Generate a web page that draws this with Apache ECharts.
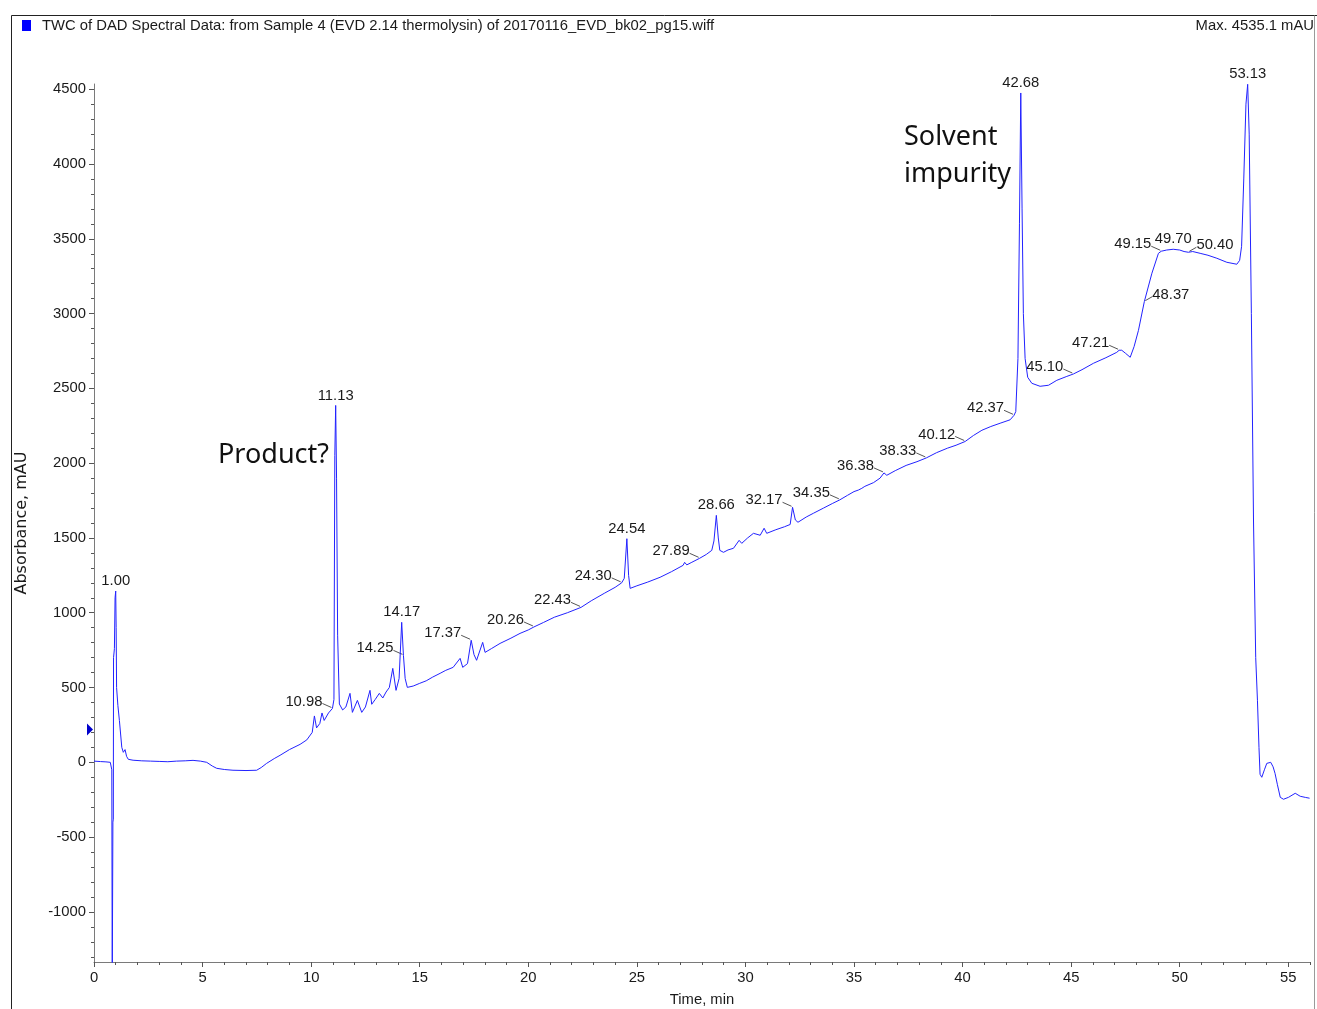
<!DOCTYPE html>
<html>
<head>
<meta charset="utf-8">
<title>TWC chromatogram</title>
<script src="https://cdn.jsdelivr.net/npm/echarts@6/dist/echarts.min.js"></script>
<style>
  html, body { margin: 0; padding: 0; background: #ffffff; }
  #chart { width: 1317px; height: 1009px; }
</style>
</head>
<body>
<div id="chart"></div>
<script>
// Total wavelength chromatogram (DAD), retention time in minutes vs absorbance in mAU
const traceTime = [
  0.00, 0.30, 0.55, 0.75, 0.80, 0.82, 0.84, 0.86, 0.87, 0.89, 0.90, 0.94, 0.97, 1.00, 1.02, 1.04,
  1.10, 1.17, 1.28, 1.35, 1.43, 1.50, 1.58, 1.80, 2.20, 2.60, 3.00, 3.40, 3.80, 4.20, 4.56, 4.90,
  5.19, 5.45, 5.65, 6.00, 6.40, 7.00, 7.49, 7.70, 7.95, 8.30, 8.57, 9.00, 9.49, 9.80, 10.05, 10.15,
  10.25, 10.40, 10.50, 10.60, 10.80, 10.98, 11.05, 11.09, 11.13, 11.17, 11.22, 11.30, 11.45, 11.60,
  11.79, 11.90, 12.13, 12.33, 12.50, 12.71, 12.79, 12.95, 13.14, 13.30, 13.45, 13.60, 13.76, 13.91,
  14.05, 14.17, 14.25, 14.33, 14.43, 14.70, 15.00, 15.30, 15.60, 15.94, 16.20, 16.54, 16.86, 16.98,
  17.20, 17.37, 17.50, 17.62, 17.90, 18.01, 18.30, 18.70, 19.20, 19.62, 20.00, 20.26, 20.70, 21.20,
  21.80, 22.43, 22.90, 23.50, 24.00, 24.30, 24.42, 24.54, 24.62, 24.69, 25.00, 25.50, 26.07, 26.60,
  27.13, 27.20, 27.30, 27.50, 27.89, 28.20, 28.45, 28.55, 28.66, 28.75, 28.82, 28.99, 29.20, 29.45,
  29.71, 29.83, 30.10, 30.37, 30.45, 30.68, 30.86, 30.98, 31.40, 31.80, 32.06, 32.17, 32.30, 32.42,
  32.80, 33.13, 33.60, 34.00, 34.35, 34.70, 35.00, 35.20, 35.36, 35.50, 35.90, 36.20, 36.38, 36.51,
  36.90, 37.40, 37.90, 38.33, 38.80, 39.30, 39.70, 40.12, 40.50, 40.89, 41.30, 41.73, 42.19, 42.37,
  42.45, 42.55, 42.62, 42.68, 42.74, 42.80, 42.88, 43.00, 43.19, 43.57, 43.96, 44.34, 44.80, 45.10,
  45.50, 46.03, 46.60, 47.10, 47.21, 47.33, 47.50, 47.72, 47.90, 48.10, 48.37, 48.72, 49.02, 49.15,
  49.40, 49.70, 50.00, 50.20, 50.40, 50.60, 50.94, 51.30, 51.71, 52.17, 52.63, 52.76, 52.85, 52.95,
  53.05, 53.13, 53.20, 53.30, 53.40, 53.50, 53.58, 53.65, 53.70, 53.78, 53.90, 54.01, 54.19, 54.30,
  54.39, 54.50, 54.63, 54.78, 55.01, 55.32, 55.55, 55.80, 55.98
];
const traceAbs = [
  8, 5, 3, 0, 2, -50, -1500, -1500, -400, -380, 700, 760, 1100, 1145, 900, 500,
  380, 280, 100, 67, 85, 40, 20, 14, 10, 8, 6, 4, 8, 10, 13, 8,
  0, -25, -40, -48, -53, -55, -53, -35, -7, 25, 47, 85, 120, 150, 200, 310,
  230, 260, 330, 280, 330, 360, 420, 2050, 2386, 1900, 850, 390, 350, 370,
  461, 334, 414, 334, 370, 481, 388, 420, 461, 430, 470, 500, 628, 481,
  560, 936, 715, 560, 501, 510, 528, 545, 570, 595, 615, 635, 695, 635,
  660, 816, 720, 682, 802, 735, 760, 795, 830, 862, 885, 905, 935, 970,
  1000, 1036, 1080, 1130, 1170, 1200, 1230, 1495, 1250, 1163, 1180, 1205, 1237, 1275,
  1317, 1337, 1320, 1335, 1364, 1390, 1417, 1480, 1651, 1500, 1417, 1404, 1420, 1431,
  1484, 1464, 1500, 1531, 1538, 1518, 1565, 1531, 1555, 1575, 1590, 1705, 1620, 1605,
  1640, 1665, 1700, 1730, 1755, 1785, 1810, 1820, 1832, 1845, 1870, 1900, 1935, 1919,
  1950, 1985, 2010, 2035, 2070, 2100, 2120, 2145, 2185, 2220, 2245, 2267, 2290, 2320,
  2345, 2700, 3600, 4475, 3700, 3000, 2700, 2574, 2534, 2514, 2521, 2554, 2580, 2596,
  2625, 2668, 2705, 2741, 2755, 2755, 2735, 2708, 2780, 2888, 3080, 3270, 3403, 3417,
  3425, 3430, 3425, 3415, 3410, 3415, 3403, 3390, 3370, 3343, 3330, 3356, 3450, 3900,
  4400, 4533, 4200, 3000, 1600, 700, 415, 100, -80, -100, -50, -7, 0, -30,
  -74, -150, -234, -247, -234, -207, -227, -235, -240
];

// Annotated retention times and the absorbance at each annotated point
const peakLabel = [
  '1.00', '10.98', '11.13', '14.25', '14.17', '17.37', '20.26', '22.43', '24.30', '24.54',
  '27.89', '28.66', '32.17', '34.35', '36.38', '38.33', '40.12', '42.37', '42.68', '45.10',
  '47.21', '48.37', '49.15', '49.70', '50.40', '53.13'
];
const peakTime = peakLabel.map(Number);
const peakAbs = [
  1145, 360, 2386, 715, 936, 816, 905, 1036, 1200, 1495,
  1364, 1651, 1705, 1755, 1935, 2035, 2145, 2320, 4475, 2596,
  2755, 3080, 3417, 3430, 3410, 4533
];

// Axis tick values
const xTickValues = [0, 5, 10, 15, 20, 25, 30, 35, 40, 45, 50, 55];
const yTickValues = [-1000, -500, 0, 500, 1000, 1500, 2000, 2500, 3000, 3500, 4000, 4500];

const chartTitle = 'TWC of DAD Spectral Data: from Sample 4 (EVD 2.14 thermolysin) of 20170116_EVD_bk02_pg15.wiff';
const maxText = 'Max. 4535.1 mAU';

// Layout for the peak captions: most sit up-left with a short leader
const captionAbove = new Set(['1.00', '11.13', '14.17', '24.54', '28.66', '42.68', '49.70', '53.13']);
const captionRight = new Set(['48.37', '50.40']);

const X_MIN = 0, X_MAX = 56, Y_MIN = -1335, Y_MAX = 4535;
const minorX = [];
for (let v = X_MIN; v <= X_MAX; v += 1) if (v % 5 !== 0) minorX.push(v);
const minorY = [];
for (let v = -1300; v <= 4500; v += 100) if (v % 500 !== 0) minorY.push(v);

const FONT = '"Liberation Sans", Arial, sans-serif';
const FS = 14.8;
const TEXT = '#1a1a1a';
const TRACE = '#2222ff';

const chart = echarts.init(document.getElementById('chart'), null, { renderer: 'canvas' });

const axisLabelStyle = { color: TEXT, fontFamily: FONT, fontSize: FS, formatter: (v) => String(v) };

chart.setOption({
  animation: false,
  backgroundColor: '#ffffff',
  title: {
    text: maxText,
    right: 3,
    top: 18,
    padding: 0,
    textStyle: { color: TEXT, fontFamily: FONT, fontSize: FS, fontWeight: 'normal' }
  },
  legend: {
    left: 22,
    top: 18,
    selectedMode: false,
    icon: 'rect',
    itemWidth: 9,
    itemHeight: 11,
    padding: 0,
    data: [{ name: chartTitle, itemStyle: { color: '#0000ff' } }],
    textStyle: { color: TEXT, fontFamily: FONT, fontSize: FS, padding: [0, 0, 0, 6] }
  },
  grid: { left: 94, right: 7, top: 84, bottom: 47, containLabel: false, outerBoundsMode: 'none' },
  xAxis: [
    {
      type: 'value', min: X_MIN, max: X_MAX, position: 'bottom',
      name: 'Time, min', nameLocation: 'middle', nameGap: 30,
      nameTextStyle: { color: TEXT, fontFamily: FONT, fontSize: FS },
      axisLine: { show: true, onZero: false, lineStyle: { color: '#7a7a7a', width: 1 } },
      axisTick: { show: true, customValues: xTickValues, length: 5, lineStyle: { color: '#555555' } },
      axisLabel: Object.assign({ customValues: xTickValues, margin: 8 }, axisLabelStyle),
      splitLine: { show: false }
    },
    {
      type: 'value', min: X_MIN, max: X_MAX, position: 'bottom',
      axisLine: { show: false, onZero: false },
      axisTick: { show: true, customValues: minorX, length: 3, lineStyle: { color: '#555555' } },
      axisLabel: { show: false },
      splitLine: { show: false }
    }
  ],
  yAxis: [
    {
      type: 'value', min: Y_MIN, max: Y_MAX, position: 'left',
      name: 'Absorbance, mAU', nameLocation: 'middle', nameGap: 64, nameRotate: 90,
      nameTextStyle: { color: TEXT, fontFamily: '"DejaVu Sans", sans-serif', fontSize: 16 },
      axisLine: { show: true, onZero: false, lineStyle: { color: '#7a7a7a', width: 1 } },
      axisTick: { show: true, customValues: yTickValues, length: 5, lineStyle: { color: '#555555' } },
      axisLabel: Object.assign({ customValues: yTickValues, margin: 8 }, axisLabelStyle),
      splitLine: { show: false }
    },
    {
      type: 'value', min: Y_MIN, max: Y_MAX, position: 'left',
      axisLine: { show: false, onZero: false },
      axisTick: { show: true, customValues: minorY, length: 3, lineStyle: { color: '#555555' } },
      axisLabel: { show: false },
      splitLine: { show: false }
    }
  ],
  series: [
    {
      name: chartTitle,
      type: 'line',
      xAxisIndex: 0, yAxisIndex: 0,
      data: traceTime.map((t, i) => [t, traceAbs[i]]),
      showSymbol: false,
      symbol: 'none',
      clip: true,
      lineStyle: { color: TRACE, width: 1 },
      itemStyle: { color: '#0000ff' },
      emphasis: { disabled: true }
    },
    {
      // retention time captions with short leader lines
      type: 'custom',
      xAxisIndex: 0, yAxisIndex: 0,
      clip: false,
      silent: true,
      data: peakTime.map((t, i) => [t, peakAbs[i], i]),
      renderItem(params, api) {
        const i = api.value(2);
        const p = api.coord([api.value(0), api.value(1)]);
        const txt = peakLabel[i];
        const font = FS + 'px ' + FONT;
        if (captionAbove.has(txt)) {
          return {
            type: 'text',
            style: { text: txt, x: p[0], y: p[1] - 10, align: 'center', verticalAlign: 'middle', font, fill: TEXT }
          };
        }
        if (captionRight.has(txt)) {
          return {
            type: 'group',
            children: [
              { type: 'line', shape: { x1: p[0] + 1, y1: p[1] - 1, x2: p[0] + 8, y2: p[1] - 5 }, style: { stroke: '#555555', lineWidth: 1 } },
              { type: 'text', style: { text: txt, x: p[0] + 8, y: p[1] - 7, align: 'left', verticalAlign: 'middle', font, fill: TEXT } }
            ]
          };
        }
        return {
          type: 'group',
          children: [
            { type: 'line', shape: { x1: p[0] - 10, y1: p[1] - 5, x2: p[0] - 1, y2: p[1] - 1 }, style: { stroke: '#555555', lineWidth: 1 } },
            { type: 'text', style: { text: txt, x: p[0] - 10, y: p[1] - 7, align: 'right', verticalAlign: 'middle', font, fill: TEXT } }
          ]
        };
      }
    },
    {
      // detector level marker at the left edge of the absorbance axis
      type: 'custom',
      xAxisIndex: 0, yAxisIndex: 0,
      clip: false,
      silent: true,
      data: [[0, 220]],
      renderItem(params, api) {
        const p = api.coord([api.value(0), api.value(1)]);
        return {
          type: 'polygon',
          shape: { points: [[p[0] - 7, p[1] - 6], [p[0] - 1, p[1]], [p[0] - 7, p[1] + 6]] },
          style: { fill: '#0000cc' }
        };
      }
    }
  ],
  graphic: [
    // page frame
    { type: 'line', shape: { x1: 11.5, y1: 15.5, x2: 1317, y2: 15.5 }, style: { stroke: '#222222', lineWidth: 1 }, silent: true },
    { type: 'line', shape: { x1: 11.5, y1: 15.5, x2: 11.5, y2: 1009 }, style: { stroke: '#222222', lineWidth: 1 }, silent: true },
    { type: 'line', shape: { x1: 1314.5, y1: 15.5, x2: 1314.5, y2: 1009 }, style: { stroke: '#9a9a9a', lineWidth: 1 }, silent: true },
    // hand-written notes
    { type: 'text', left: 218, top: 442, style: { text: 'Product?', font: '27px "Noto Sans", sans-serif', fill: '#111111' }, silent: true },
    { type: 'text', left: 904, top: 119, style: { text: 'Solvent\nimpurity', font: '27px "Noto Sans", sans-serif', lineHeight: 37, fill: '#111111' }, silent: true }
  ]
});
</script>
</body>
</html>
